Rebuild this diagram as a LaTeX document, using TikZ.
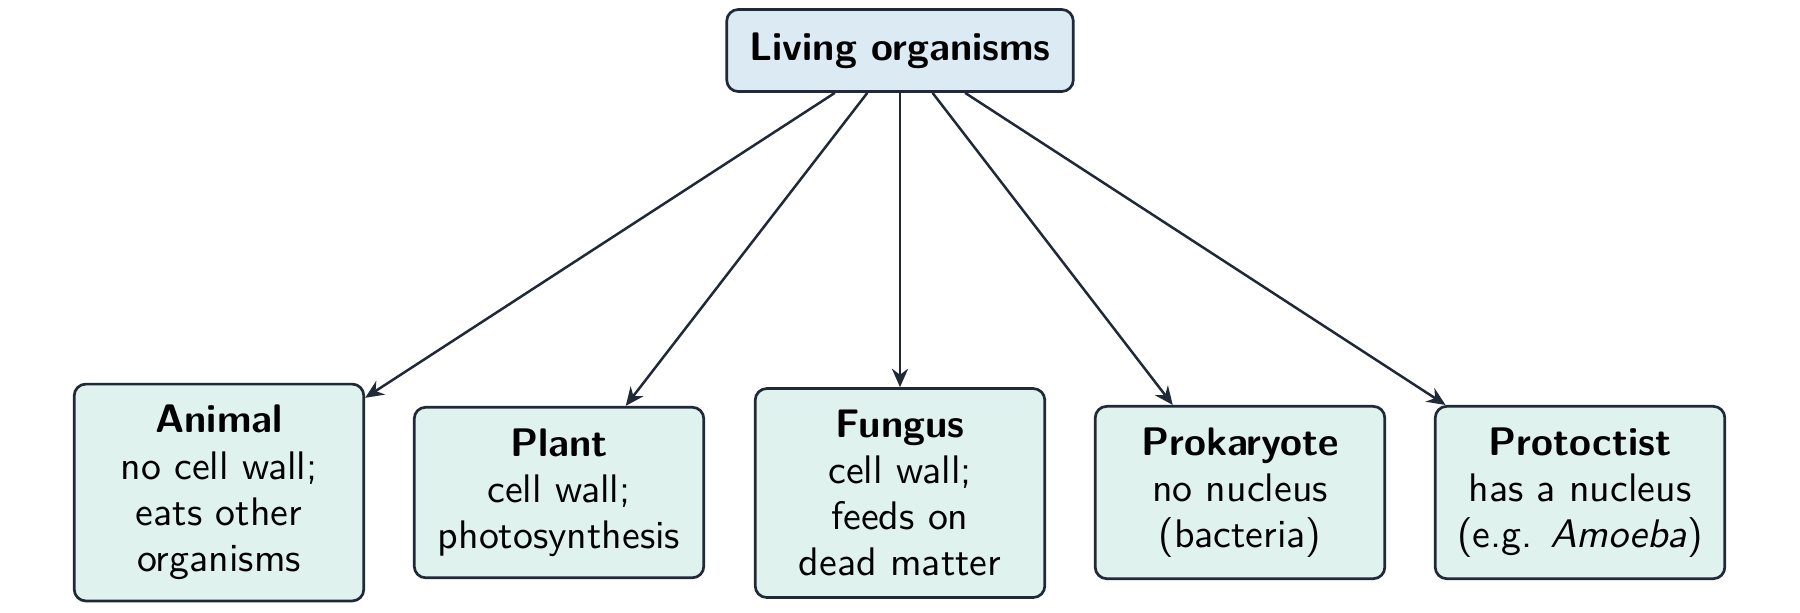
\documentclass[tikz,border=0pt]{standalone}
\usetikzlibrary{arrows.meta}
\definecolor{edgecol}{RGB}{31,41,55}
\definecolor{topfill}{RGB}{219,234,243}
\definecolor{leaffill}{RGB}{224,242,238}
\begin{document}
\begin{tikzpicture}[x=0.2597pt,y=-0.2597pt,
  font=\sffamily\fontsize{10.35}{12}\selectfont,
  box/.style={draw=edgecol,line width=0.7pt,rounded corners=3pt,align=center,
    inner xsep=5.5pt,inner ysep=5.5pt,text=black},
  rootbox/.style={box,fill=topfill,minimum width=90pt,minimum height=21.3pt,font=\sffamily\bfseries\fontsize{10.35}{12}\selectfont},
  leafbox/.style={box,fill=leaffill,minimum width=75.2pt},
  link/.style={draw=edgecol,line width=0.65pt,-{Stealth[length=4.8pt,width=4.2pt]}}
]
\useasboundingbox (0,0) rectangle (1800,612);
\node[rootbox] (root) at (900,50.5) {Living organisms};
\node[leafbox] (animal) at (219,492.5) {\textbf{Animal}\\no cell wall;\\eats other\\organisms};
\node[leafbox] (plant) at (559,492.5) {\textbf{Plant}\\cell wall;\\photosynthesis};
\node[leafbox] (fungus) at (900,493) {\textbf{Fungus}\\cell wall;\\feeds on\\dead matter};
\node[leafbox] (prok) at (1240,492.5) {\textbf{Prokaryote}\\no nucleus\\(bacteria)};
\node[leafbox] (prot) at (1580,492.5) {\textbf{Protoctist}\\has a nucleus\\(e.g. \textit{Amoeba})};
\foreach \c in {animal,plant,fungus,prok,prot}
  \draw[link] (root) -- (\c);
\end{tikzpicture}
\end{document}
